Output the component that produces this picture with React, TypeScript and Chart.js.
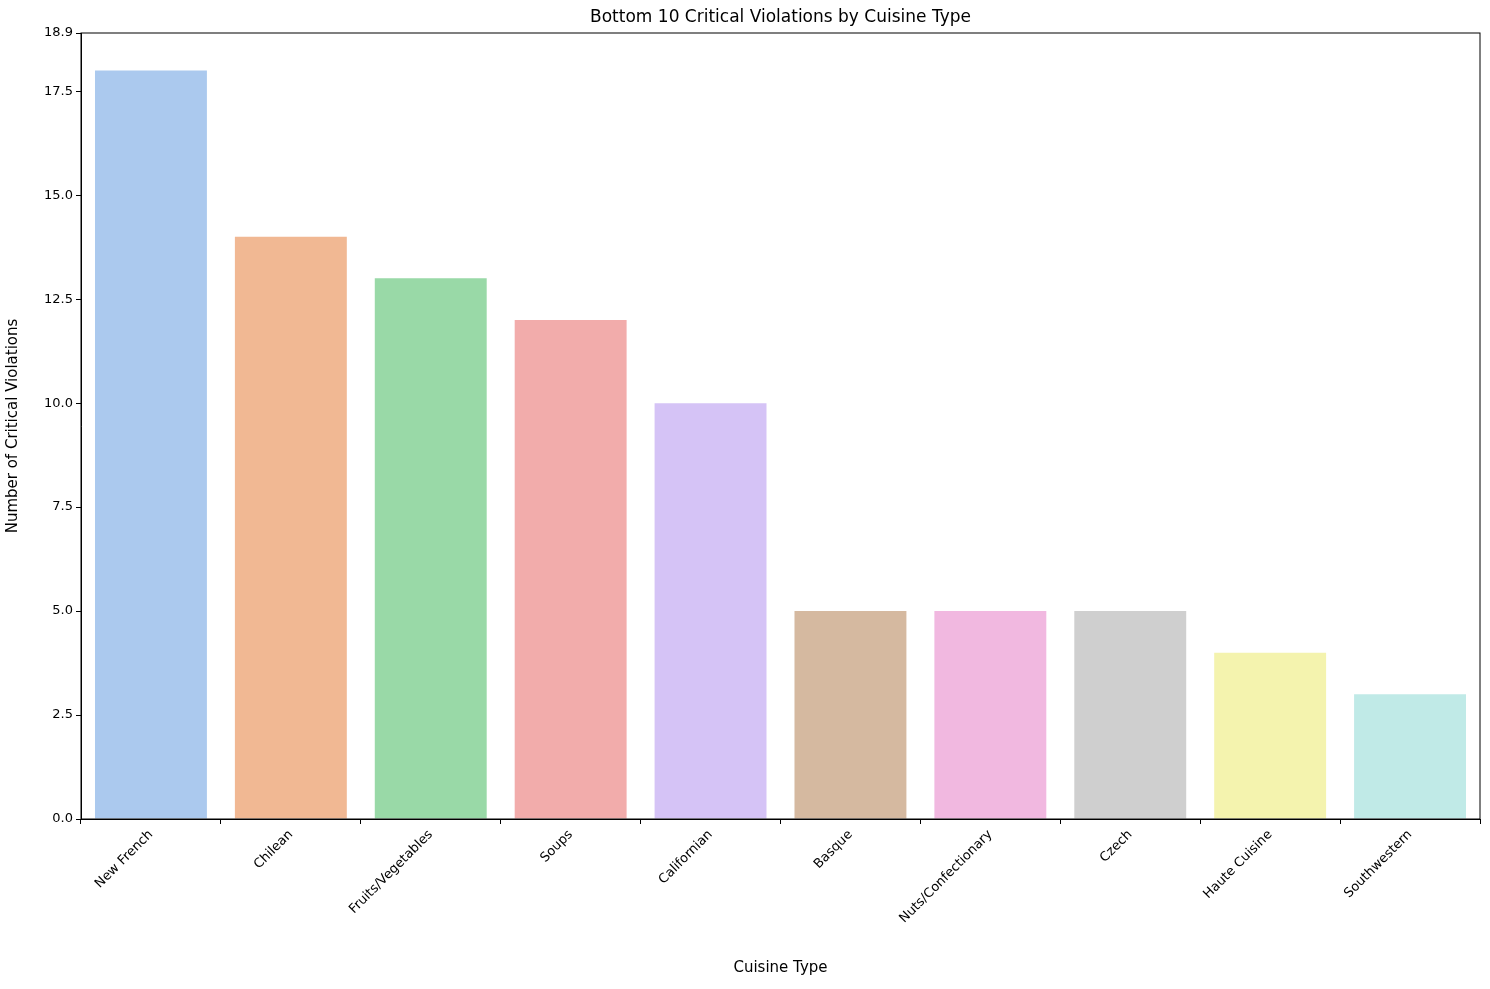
import React, { useEffect, useRef } from "react";
import { Chart, registerables } from "chart.js";
Chart.register(...registerables);

const categories = ["New French","Chilean","Fruits/Vegetables","Soups","Californian","Basque","Nuts/Confectionary","Czech","Haute Cuisine","Southwestern"];
const values = [18,14,13,12,10,5,5,5,4,3];
const colors = ["#abc9ee","#f1b893","#99d9a7","#f2acab","#d5c3f6","#d5b9a0","#f1b8e0","#cfcfcf","#f4f3ae","#c0eae7"];

export default function App() {
  const ref = useRef<HTMLCanvasElement>(null);
  useEffect(() => {
    document.body.style.margin = "0";
    const frame = {
      id: "frame",
      afterDraw(c: any) {
        const { ctx, chartArea: a } = c;
        ctx.save();
        ctx.strokeStyle = "#000"; ctx.lineWidth = 1;
        ctx.strokeRect(a.left, a.top, a.right - a.left, a.bottom - a.top);
        ctx.fillStyle = "#000"; ctx.font = "17px 'DejaVu Sans'";
        ctx.textAlign = "center"; ctx.textBaseline = "middle";
        ctx.fillText("Bottom 10 Critical Violations by Cuisine Type", (a.left + a.right) / 2, 18);
        ctx.restore();
      },
    };
    const font = { family: "'DejaVu Sans'", size: 13 };
    const chart = new Chart(ref.current!, {
      type: "bar",
      data: { labels: categories, datasets: [{ data: values, backgroundColor: colors, categoryPercentage: 0.8, barPercentage: 1 }] },
      options: {
        animation: false, responsive: false,
        layout: { padding: { top: 33, right: 10, left: 0, bottom: 8 } },
        plugins: { legend: { display: false }, tooltip: { enabled: false } },
        scales: {
          x: {
            grid: { drawOnChartArea: false, tickLength: 5, color: "#000" },
            border: { color: "#000" },
            ticks: { color: "#000", font, maxRotation: 45, minRotation: 45 },
            title: { display: true, text: "Cuisine Type", color: "#000", font: { family: "'DejaVu Sans'", size: 15 } },
            afterFit(s: any) { s.height = 162; },
          },
          y: {
            min: 0, max: 18.9,
            grid: { drawOnChartArea: false, tickLength: 5, color: "#000" },
            border: { color: "#000" },
            ticks: { color: "#000", font, stepSize: 2.5, callback: (v: any) => Number(v).toFixed(1) },
            title: { display: true, text: "Number of Critical Violations", color: "#000", font: { family: "'DejaVu Sans'", size: 15 } },
            afterFit(s: any) { s.width = 81; },
          },
        },
      },
      plugins: [frame],
    });
    return () => chart.destroy();
  }, []);
  return <canvas ref={ref} width={1490} height={989} style={{ display: "block" }} />;
}
